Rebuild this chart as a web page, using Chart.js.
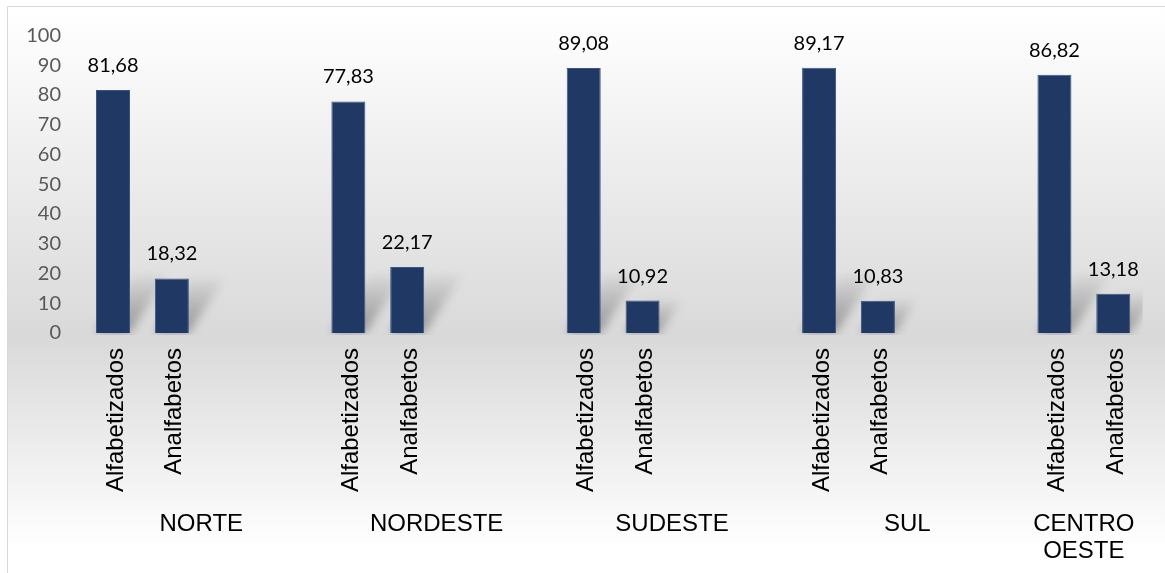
<!DOCTYPE html>
<html>
<head>
<meta charset="utf-8">
<script src="https://cdn.jsdelivr.net/npm/chart.js@4/dist/chart.umd.min.js"></script>
<style>
  html, body { margin: 0; padding: 0; background: #fff; }
  #wrap { width: 1165px; height: 573px; position: relative; }
</style>
</head>
<body>
<div id="wrap"><canvas id="chart" width="1165" height="573"></canvas></div>
<script>
const regions = ["NORTE", "NORDESTE", "SUDESTE", "SUL", "CENTRO OESTE"];
const subgroups = ["Alfabetizados", "Analfabetos"];
const alfabetizados = [81.68, 77.83, 89.08, 89.17, 86.82];
const analfabetos = [18.32, 22.17, 10.92, 10.83, 13.18];
const yTicks = [0, 10, 20, 30, 40, 50, 60, 70, 80, 90, 100];

// each region takes 4 slots (2 bars + 2 empty), the last one only 2
const slotLabels = [];
const slotValues = [];
const slotRegion = [];
regions.forEach((r, g) => {
    slotLabels.push(subgroups[0], subgroups[1]);
    slotValues.push(alfabetizados[g], analfabetos[g]);
    slotRegion.push(g, g);
    if (g < regions.length - 1) {
        slotLabels.push("", "");
        slotValues.push(null, null);
        slotRegion.push(g, g);
    }
});

const fmt = v => v.toFixed(2).replace(".", ",");

/* ========== BACKGROUND ========== */
const backgroundPlugin = {
    id: "bg",
    beforeDraw(chart) {
        const ctx = chart.ctx;
        const a = chart.chartArea;
        ctx.save();
        ctx.fillStyle = "#ffffff";
        ctx.fillRect(0, 0, chart.width, chart.height);

        const top = 7, bottom = 548;
        const g = ctx.createLinearGradient(0, top, 0, bottom);
        g.addColorStop(0, "#ffffff");
        g.addColorStop((40 - top) / (bottom - top), "#fcfcfc");
        g.addColorStop((a.bottom + 4 - top) / (bottom - top), "#d9d9d9");
        g.addColorStop(1, "#ffffff");
        ctx.fillStyle = g;
        ctx.fillRect(8, 7, chart.width - 8, chart.height - 7);

        ctx.strokeStyle = "#d9d9d9";
        ctx.lineWidth = 1;
        ctx.beginPath();
        ctx.moveTo(7.5, chart.height);
        ctx.lineTo(7.5, 6.5);
        ctx.lineTo(chart.width, 6.5);
        ctx.stroke();
        ctx.restore();
    }
};

/* ========== BAR SHADOWS ========== */
const shadowPlugin = {
    id: "shadow",
    beforeDatasetsDraw(chart) {
        const ctx = chart.ctx;
        const a = chart.chartArea;
        ctx.save();
        ctx.beginPath();
        ctx.rect(a.left, a.top, a.right - a.left, a.bottom - a.top + 2);
        ctx.clip();
        ctx.filter = "blur(5px)";
        chart.getDatasetMeta(0).data.forEach((bar, i) => {
            if (slotValues[i] == null) return;
            const p = bar.getProps(["x", "y", "base", "width"], true);
            const h = p.base - p.y;
            const dy = Math.min(h, 58);
            const dx = dy * 0.65;
            const l = p.x - p.width / 2, r = p.x + p.width / 2;
            const grad = ctx.createLinearGradient(0, p.base, 0, p.base - dy);
            grad.addColorStop(0, "rgba(0,0,0,0.32)");
            grad.addColorStop(1, "rgba(0,0,0,0.03)");
            ctx.fillStyle = grad;
            ctx.beginPath();
            ctx.moveTo(l, p.base);
            ctx.lineTo(r, p.base);
            ctx.lineTo(r + dx, p.base - dy);
            ctx.lineTo(l + dx, p.base - dy);
            ctx.closePath();
            ctx.fill();
        });
        ctx.restore();
    }
};

/* ========== LABELS ========== */
const labelPlugin = {
    id: "labels",
    afterDatasetsDraw(chart) {
        const ctx = chart.ctx;
        const x = chart.scales.x;
        const a = chart.chartArea;
        ctx.save();

        // values above bars
        ctx.fillStyle = "#000000";
        ctx.font = "20px Lato";
        ctx.textAlign = "center";
        ctx.textBaseline = "alphabetic";
        chart.getDatasetMeta(0).data.forEach((bar, i) => {
            if (slotValues[i] == null) return;
            ctx.fillText(fmt(slotValues[i]), bar.x, bar.y - 18);
        });

        // rotated sub labels
        ctx.font = "24px 'Liberation Sans'";
        ctx.textAlign = "right";
        slotLabels.forEach((lab, i) => {
            if (!lab) return;
            const px = x.getPixelForValue(i);
            ctx.save();
            ctx.translate(px + 9.5, a.bottom + 15);
            ctx.rotate(-Math.PI / 2);
            ctx.fillText(lab, 0, 0);
            ctx.restore();
        });

        // region names
        ctx.textAlign = "center";
        const half = (x.getPixelForValue(1) - x.getPixelForValue(0)) / 2;
        regions.forEach((r, g) => {
            const idx = slotRegion.map((s, i) => s === g ? i : -1).filter(i => i >= 0);
            const left = x.getPixelForValue(idx[0]) - half;
            const right = x.getPixelForValue(idx[idx.length - 1]) + half;
            const cx = (left + right) / 2;
            let lines = [r];
            if (ctx.measureText(r).width > right - left - 10) lines = r.split(" ");
            lines.forEach((ln, k) => ctx.fillText(ln, cx, 531 + k * 27));
        });
        ctx.restore();
    }
};

const ctx = document.getElementById("chart").getContext("2d");
new Chart(ctx, {
    type: "bar",
    data: {
        labels: slotLabels,
        datasets: [{
            data: slotValues,
            backgroundColor: "#1f3864",
            borderColor: "#3a5583",
            borderWidth: 1,
            barPercentage: 0.578,
            categoryPercentage: 1
        }]
    },
    options: {
        responsive: false,
        animation: false,
        layout: { padding: { top: 35.5, right: 22.3, left: 0, bottom: 0 } },
        plugins: { legend: { display: false }, tooltip: { enabled: false } },
        scales: {
            x: {
                grid: { display: false, drawTicks: false },
                border: { display: false },
                ticks: { display: false },
                afterFit: s => { s.height = 240; }
            },
            y: {
                min: 0,
                max: 100,
                grid: { display: false, drawTicks: false },
                border: { display: false },
                afterBuildTicks: s => { s.ticks = yTicks.map(v => ({ value: v })); },
                ticks: { color: "#595959", font: { family: "Lato", size: 20 }, padding: 22.6 },
                afterFit: s => { s.width = 83.6; }
            }
        }
    },
    plugins: [backgroundPlugin, shadowPlugin, labelPlugin]
});
</script>
</body>
</html>
